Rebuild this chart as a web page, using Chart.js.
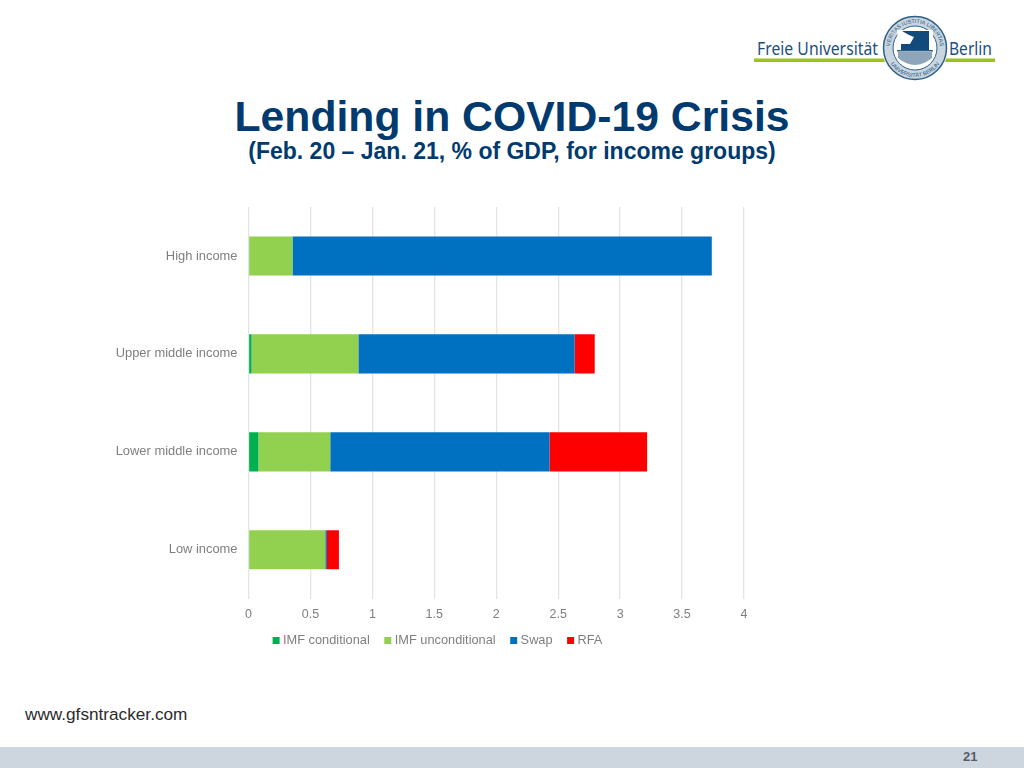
<!DOCTYPE html>
<html>
<head>
<meta charset="utf-8">
<title>Lending in COVID-19 Crisis</title>
<script src="https://cdn.jsdelivr.net/npm/chart.js@4"></script>
<style>
  html, body { margin: 0; padding: 0; background: #fff; }
  body { width: 1024px; height: 768px; position: relative; overflow: hidden; font-family: "Liberation Sans", Arial, sans-serif; }
  #title { position: absolute; left: 0; width: 1024px; top: 92px; text-align: center; font-size: 42.7px; font-weight: bold; color: #003a6e; line-height: 48px; }
  #subtitle { position: absolute; left: 0; width: 1024px; top: 137px; text-align: center; font-size: 23px; font-weight: bold; color: #003a6e; line-height: 28px; }
  #chartBox { position: absolute; left: 100px; top: 190px; width: 674px; height: 470px; }
  #source { position: absolute; left: 25px; top: 704px; font-size: 17.2px; color: #2b2b2b; line-height: 20px; }
  #footer { position: absolute; left: 0; top: 747px; width: 1024px; height: 21px; background: #cdd6df; }
  #page { position: absolute; left: 963px; top: 749px; font-size: 13px; font-weight: bold; color: #555d66; line-height: 16px; }
  #logo { position: absolute; left: 750px; top: 10px; }
</style>
</head>
<body>
<svg id="logo" width="250" height="75" viewBox="750 10 250 75">
  <rect x="754" y="58.5" width="241" height="3.5" fill="#9bc31c"/>
  <text x="757" y="55" font-family="'Noto Sans', sans-serif" font-size="18" fill="#1d4f7c" textLength="121" lengthAdjust="spacingAndGlyphs">Freie Universität</text>
  <text x="949" y="55" font-family="'Noto Sans', sans-serif" font-size="18" fill="#1d4f7c" textLength="43" lengthAdjust="spacingAndGlyphs">Berlin</text>
  <circle cx="915" cy="48" r="33" fill="#fff"/>
  <circle cx="915" cy="48" r="31.5" fill="#c9d6e0" stroke="#2f5f85" stroke-width="1.5"/>
  <circle cx="915" cy="48" r="22" fill="#fff" stroke="#2f5f85" stroke-width="1"/>
  <defs>
    <path id="sealTop" d="M 890 48 A 25 25 0 0 1 940 48"/>
    <path id="sealBottom" d="M 886 48 A 29 29 0 0 0 944 48"/>
  </defs>
  <text font-family="'Liberation Sans', sans-serif" font-size="5.5" fill="#1d4f7c"><textPath href="#sealTop" startOffset="50%" text-anchor="middle">VERITAS IUSTITIA LIBERTAS</textPath></text>
  <text font-family="'Liberation Sans', sans-serif" font-size="5.5" fill="#1d4f7c"><textPath href="#sealBottom" startOffset="50%" text-anchor="middle">UNIVERSITÄT BERLIN</textPath></text>
  <path d="M 897 30 H 933 V 50 H 899 V 50 Z" fill="#fff"/>
  <path d="M 902 31 H 929 V 50 H 901 V 44 H 910 L 914 37 L 909 35 Z" fill="#134a7c"/>
  <rect x="897" y="50" width="36" height="1.5" fill="#2f5f85"/>
  <path d="M 898 52 H 932 V 58 Q 915 72 898 58 Z" fill="#8fa6ba"/>
</svg>

<div id="title">Lending in COVID-19 Crisis</div>
<div id="subtitle">(Feb. 20 – Jan. 21, % of GDP, for income groups)</div>
<div id="chartBox"><canvas id="lendingChart"></canvas></div>
<div id="source">www.gfsntracker.com</div>
<div id="footer"></div>
<div id="page">21</div>

<script>
const incomeGroups = ['High income', 'Upper middle income', 'Lower middle income', 'Low income'];
const imfConditional = [0, 0.025, 0.08, 0];
const imfUnconditional = [0.355, 0.862, 0.58, 0.62];
const swap = [3.385, 1.746, 1.77, 0.013];
const rfa = [0, 0.162, 0.788, 0.097];

const fontFamily = '"Liberation Sans", Arial, sans-serif';
const greyText = '#7f7f7f';

function barSet(label, data, color) {
    return { label: label, data: data, backgroundColor: color, borderWidth: 0, categoryPercentage: 0.4, barPercentage: 1 };
}

// legend sits a bit higher and further right than the layout puts it
const nudgeLegend = {
    id: 'nudgeLegend',
    afterLayout(chart) {
        chart.legend.top -= 3;
        chart.legend.bottom -= 3;
        chart.legend.left += 17;
        chart.legend.right += 17;
    }
};

new Chart(document.getElementById('lendingChart').getContext('2d'), {
    type: 'bar',
    data: {
        labels: incomeGroups,
        datasets: [
            barSet('IMF conditional', imfConditional, '#00b050'),
            barSet('IMF unconditional', imfUnconditional, '#92d050'),
            barSet('Swap', swap, '#0070c0'),
            barSet('RFA', rfa, '#ff0000')
        ]
    },
    plugins: [nudgeLegend],
    options: {
        indexAxis: 'y',
        responsive: true,
        maintainAspectRatio: false,
        animation: false,
        layout: { padding: { top: 17, right: 30, left: 0, bottom: 0 } },
        scales: {
            x: {
                stacked: true,
                min: 0,
                max: 4,
                afterFit: scale => { scale.height = 21; },
                border: { display: false },
                grid: { color: '#e4e4e4', lineWidth: 1.3, drawTicks: false },
                ticks: { stepSize: 0.5, color: greyText, font: { family: fontFamily, size: 12.5 }, padding: 8, maxRotation: 0, callback: value => value }
            },
            y: {
                stacked: true,
                afterFit: scale => { scale.width = 148.5; },
                border: { display: false },
                grid: { display: false },
                ticks: { color: greyText, font: { family: fontFamily, size: 12.9 }, padding: 3 }
            }
        },
        plugins: {
            title: { display: false },
            tooltip: { enabled: false },
            legend: {
                position: 'bottom',
                labels: {
                    usePointStyle: true,
                    pointStyle: 'rect',
                    boxWidth: 1,
                    boxHeight: 7,
                    padding: 17.5,
                    color: greyText,
                    font: { family: fontFamily, size: 12.8 }
                }
            }
        }
    }
});
</script>
</body>
</html>
